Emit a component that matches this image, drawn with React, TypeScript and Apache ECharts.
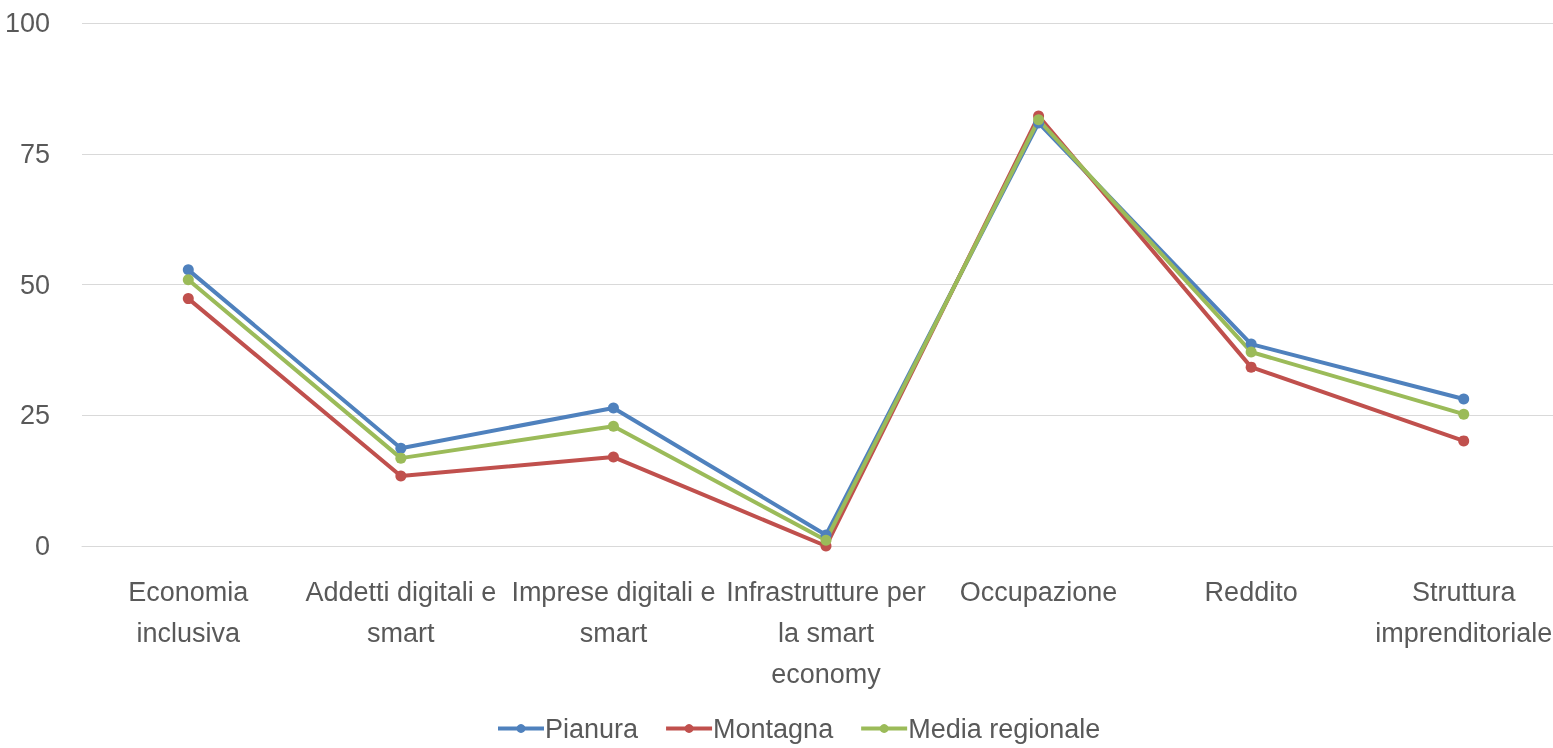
import React, { useEffect, useRef } from "react";
import * as echarts from "echarts";

const categories = [
  "Economia\ninclusiva",
  "Addetti digitali e\nsmart",
  "Imprese digitali e\nsmart",
  "Infrastrutture per\nla smart\neconomy",
  "Occupazione",
  "Reddito",
  "Struttura\nimprenditoriale",
];
const pianura = [52.8, 18.7, 26.4, 2.1, 80.9, 38.6, 28.1];
const montagna = [47.3, 13.4, 17.0, 0.0, 82.2, 34.2, 20.1];
const media = [50.9, 16.8, 22.9, 1.1, 81.5, 37.1, 25.2];
const yTicks = [0, 25, 50, 75, 100];

const FONT = "'Liberation Sans', Arial, sans-serif";
const TXT = "#595959";

export default function App() {
  const ref = useRef<HTMLDivElement>(null);
  useEffect(() => {
    document.body.style.margin = "0";
    document.body.style.overflow = "hidden";
    const chart = echarts.init(ref.current!, undefined, { renderer: "svg" });
    const mk = (name: string, data: number[], color: string) => ({
      name,
      type: "line",
      data,
      symbol: "circle",
      symbolSize: 11,
      itemStyle: { color },
      lineStyle: { color, width: 4 },
    });
    chart.setOption({
      animation: false,
      textStyle: { fontFamily: FONT },
      grid: { left: 82, right: 0, top: 23, bottom: 202 },
      xAxis: {
        type: "category",
        data: categories,
        boundaryGap: true,
        axisLine: { show: true, lineStyle: { color: "#d9d9d9", width: 1 } },
        axisTick: { show: false },
        axisLabel: {
          interval: 0,
          color: TXT,
          fontSize: 27,
          fontFamily: FONT,
          lineHeight: 41,
          margin: 25,
        },
      },
      yAxis: {
        type: "value",
        min: yTicks[0],
        max: yTicks[yTicks.length - 1],
        interval: 25,
        axisLine: { show: false },
        axisTick: { show: false },
        splitLine: { lineStyle: { color: "#d9d9d9", width: 1 } },
        axisLabel: { color: TXT, fontSize: 27, fontFamily: FONT, margin: 32 },
      },
      legend: {
        left: 491,
        top: 710,
        itemWidth: 46,
        itemHeight: 11,
        itemGap: 26,
        lineStyle: { width: 4 },
        textStyle: { color: TXT, fontSize: 27, fontFamily: FONT, padding: [0, 0, 0, -4] },
        data: ["Pianura", "Montagna", "Media regionale"],
      },
      series: [
        mk("Pianura", pianura, "#4f81bd"),
        mk("Montagna", montagna, "#c0504d"),
        mk("Media regionale", media, "#9bbb59"),
      ],
    });
    return () => chart.dispose();
  }, []);
  return (
    <div style={{ position: "fixed", left: 0, top: 0, width: 1553, height: 748, overflow: "hidden" }}>
      <div ref={ref} style={{ width: 1570, height: 748 }} />
    </div>
  );
}
